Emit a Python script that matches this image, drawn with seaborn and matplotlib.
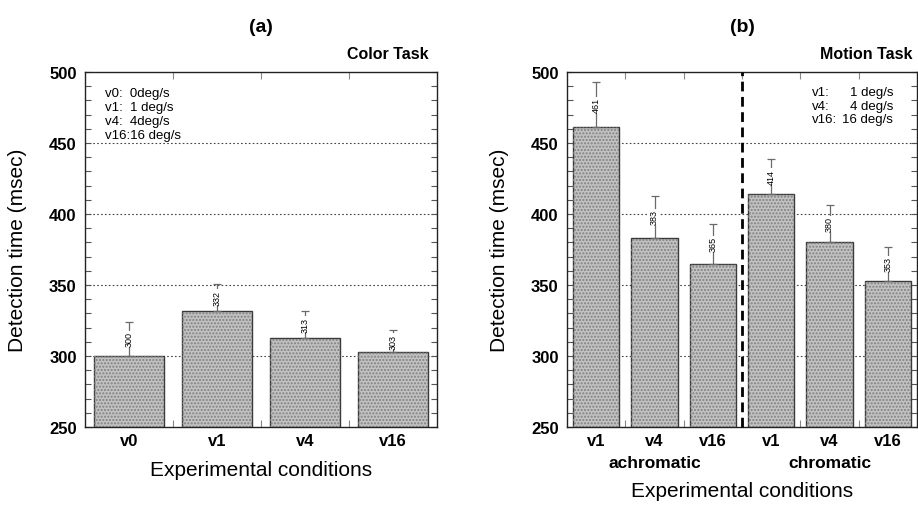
import numpy as np
import pandas as pd
import seaborn as sns
import matplotlib.pyplot as plt
from matplotlib.patches import Rectangle
from matplotlib.ticker import MultipleLocator, FixedLocator

# --- data ---
color_conditions = ['v0', 'v1', 'v4', 'v16']
color_means = [300, 332, 313, 303]
color_errs = [24, 19, 19, 15]

motion_speeds = ['v1', 'v4', 'v16', 'v1', 'v4', 'v16']
motion_groups = ['achromatic'] * 3 + ['chromatic'] * 3
motion_means = [461, 383, 365, 414, 380, 353]
motion_errs = [32, 30, 28, 25, 26, 24]

color_legend = ['v0:  0deg/s', 'v1:  1 deg/s', 'v4:  4deg/s', 'v16:16 deg/s']
motion_legend_keys = ['v1:', 'v4:', 'v16:']
motion_legend_vals = ['1 deg/s', '4 deg/s', '16 deg/s']

color_df = pd.DataFrame({'cond': color_conditions, 'time': color_means})
motion_df = pd.DataFrame({'cond': [g + ' ' + s for g, s in zip(motion_groups, motion_speeds)],
                          'time': motion_means})

sns.set_style('ticks')
plt.rcParams['font.family'] = ['Liberation Sans', 'DejaVu Sans']
plt.rcParams['text.color'] = 'black'
plt.rcParams['axes.labelcolor'] = 'black'
plt.rcParams['xtick.labelcolor'] = 'black'
plt.rcParams['ytick.labelcolor'] = 'black'

W, H = 918, 506
fig = plt.figure(figsize=(W / 100, H / 100), dpi=100)
ax1 = fig.add_axes([85 / W, 1 - 428 / H, 352 / W, 355 / H])
ax2 = fig.add_axes([567 / W, 1 - 428 / H, 350 / W, 355 / H])


def draw_panel(ax, df, means, errs, ticklabels):
    sns.barplot(data=df, x='cond', y='time', ax=ax, color='#c2c2c2', saturation=1,
                edgecolor='#3a3a3a', linewidth=1.0, width=0.8, errorbar=None, zorder=2)
    # dotted texture over the bars
    for p in list(ax.patches):
        ax.add_patch(Rectangle(p.get_xy(), p.get_width(), p.get_height(), facecolor='none',
                               edgecolor='#808080', hatch='.....', linewidth=0, zorder=2.1))
    n = len(means)
    xs = np.arange(n)
    ax.errorbar(xs, means, yerr=[np.zeros(n), errs], fmt='none', ecolor='#6a6a6a',
                elinewidth=0.9, capsize=3, capthick=0.9, zorder=3)
    for x, m, e in zip(xs, means, errs):
        ax.text(x, m + e / 2, str(m), rotation=90, fontsize=6.5, ha='center', va='center',
                zorder=4, bbox=dict(fc='white', ec='none', pad=0.4))
    for y in [300, 350, 400, 450]:
        ax.axhline(y, color='#444444', lw=0.8, ls=(0, (1.5, 2)), zorder=0.5)

    ax.set_ylim(250, 500)
    ax.set_xlim(-0.5, n - 0.5)
    ax.yaxis.set_major_locator(MultipleLocator(50))
    ax.yaxis.set_minor_locator(MultipleLocator(10))
    ax.set_xticks(xs)
    ax.set_xticklabels(ticklabels, fontsize=12, fontweight='bold')
    for lab in ax.get_yticklabels():
        lab.set_fontweight('bold')
        lab.set_fontsize(12)
    ax.xaxis.set_minor_locator(FixedLocator(np.arange(n - 1) + 0.5))
    ax.tick_params(axis='x', which='major', length=0, pad=4)
    ax.tick_params(axis='x', which='minor', direction='in', length=5, top=True,
                   bottom=True, color='#888888', width=0.8)
    ax.tick_params(axis='y', which='both', direction='in', left=True, right=True,
                   length=4, width=0.8, color='#555555', pad=6)
    for s in ax.spines.values():
        s.set_color('#222222')
        s.set_linewidth(1.0)
    ax.set_ylabel('Detection time (msec)', fontsize=15)
    ax.yaxis.set_label_coords(-0.165, 0.5)
    ax.set_xlabel('Experimental conditions', fontsize=15)


draw_panel(ax1, color_df, color_means, color_errs, color_conditions)
ax1.xaxis.set_label_coords(0.5, -0.093)
draw_panel(ax2, motion_df, motion_means, motion_errs, motion_speeds)
ax2.xaxis.set_label_coords(0.5, -0.153)
ax2.axvline(2.5, color='black', lw=2, ls=(0, (3.5, 2)), zorder=5, clip_on=False)

# group names under the right panel
for x, g in [(1, 'achromatic'), (4, 'chromatic')]:
    ax2.text(x, -0.099, g, transform=ax2.get_xaxis_transform(), ha='center', va='center',
             fontsize=12.5, fontweight='bold')

# panel titles
fig.text(261 / W, 1 - 28 / H, '(a)', ha='center', va='center', fontsize=14, fontweight='bold')
fig.text(742 / W, 1 - 28 / H, '(b)', ha='center', va='center', fontsize=14, fontweight='bold')
ax1.text(0.977, 1.051, 'Color Task', transform=ax1.transAxes, ha='right', va='center',
         fontsize=11.5, fontweight='bold')
ax2.text(0.986, 1.051, 'Motion Task', transform=ax2.transAxes, ha='right', va='center',
         fontsize=11.5, fontweight='bold')

# speed legends
for i, t in enumerate(color_legend):
    ax1.text((105 - 85) / 352, (428 - 94 - 14 * i) / 355, t, transform=ax1.transAxes,
             ha='left', va='center', fontsize=9.5)
for i, (k, v) in enumerate(zip(motion_legend_keys, motion_legend_vals)):
    y = (428 - 93 - 13.7 * i) / 355
    ax2.text((812 - 567) / 350, y, k, transform=ax2.transAxes, ha='left', va='center', fontsize=9.5)
    ax2.text((893 - 567) / 350, y, v, transform=ax2.transAxes, ha='right', va='center', fontsize=9.5)

fig.savefig('out.png', dpi=100)
